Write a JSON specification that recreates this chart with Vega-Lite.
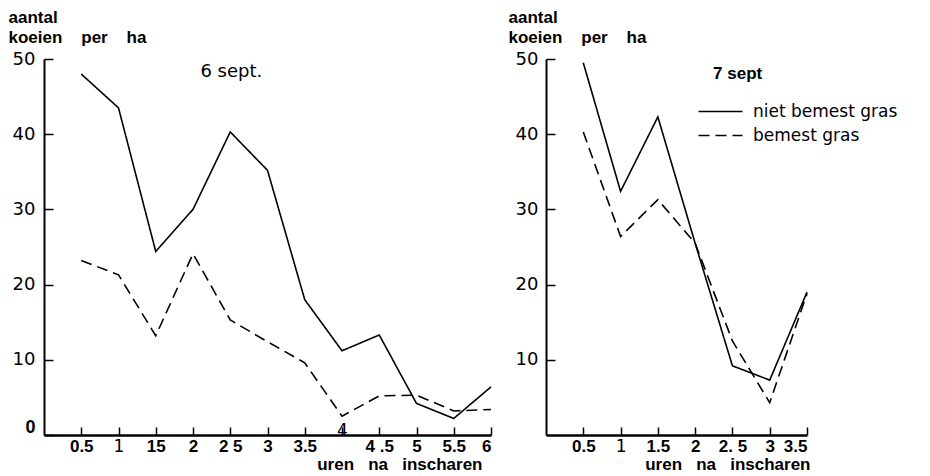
{
  "$schema": "https://vega.github.io/schema/vega-lite/v6.json",
  "padding": {"left": 8, "top": 8, "right": 0, "bottom": 0},
  "background": "white",
  "config": {
    "view": {"stroke": null},
    "axis": {"grid": false, "ticks": true, "domainColor": "black", "tickColor": "black", "labelColor": "black", "titleColor": "black"}
  },
  "datasets": {
    "sep6": [
      {"uur": 0.5, "koeien": 48, "gras": "niet bemest gras"},
      {"uur": 1, "koeien": 43.5, "gras": "niet bemest gras"},
      {"uur": 1.5, "koeien": 24.4, "gras": "niet bemest gras"},
      {"uur": 2, "koeien": 30, "gras": "niet bemest gras"},
      {"uur": 2.5, "koeien": 40.3, "gras": "niet bemest gras"},
      {"uur": 3, "koeien": 35.2, "gras": "niet bemest gras"},
      {"uur": 3.5, "koeien": 18, "gras": "niet bemest gras"},
      {"uur": 4, "koeien": 11.2, "gras": "niet bemest gras"},
      {"uur": 4.5, "koeien": 13.3, "gras": "niet bemest gras"},
      {"uur": 5, "koeien": 4.2, "gras": "niet bemest gras"},
      {"uur": 5.5, "koeien": 2.2, "gras": "niet bemest gras"},
      {"uur": 6, "koeien": 6.4, "gras": "niet bemest gras"},
      {"uur": 0.5, "koeien": 23.2, "gras": "bemest gras"},
      {"uur": 1, "koeien": 21.3, "gras": "bemest gras"},
      {"uur": 1.5, "koeien": 13.2, "gras": "bemest gras"},
      {"uur": 2, "koeien": 24.1, "gras": "bemest gras"},
      {"uur": 2.5, "koeien": 15.3, "gras": "bemest gras"},
      {"uur": 3, "koeien": 12.4, "gras": "bemest gras"},
      {"uur": 3.5, "koeien": 9.6, "gras": "bemest gras"},
      {"uur": 4, "koeien": 2.5, "gras": "bemest gras"},
      {"uur": 4.5, "koeien": 5.2, "gras": "bemest gras"},
      {"uur": 5, "koeien": 5.3, "gras": "bemest gras"},
      {"uur": 5.5, "koeien": 3.2, "gras": "bemest gras"},
      {"uur": 6, "koeien": 3.4, "gras": "bemest gras"}
    ],
    "sep7": [
      {"uur": 0.5, "koeien": 49.5, "gras": "niet bemest gras"},
      {"uur": 1, "koeien": 32.4, "gras": "niet bemest gras"},
      {"uur": 1.5, "koeien": 42.3, "gras": "niet bemest gras"},
      {"uur": 2, "koeien": 25.5, "gras": "niet bemest gras"},
      {"uur": 2.5, "koeien": 9.2, "gras": "niet bemest gras"},
      {"uur": 3, "koeien": 7.3, "gras": "niet bemest gras"},
      {"uur": 3.5, "koeien": 19, "gras": "niet bemest gras"},
      {"uur": 0.5, "koeien": 40.3, "gras": "bemest gras"},
      {"uur": 1, "koeien": 26.4, "gras": "bemest gras"},
      {"uur": 1.5, "koeien": 31.3, "gras": "bemest gras"},
      {"uur": 2, "koeien": 25.5, "gras": "bemest gras"},
      {"uur": 2.5, "koeien": 12.5, "gras": "bemest gras"},
      {"uur": 3, "koeien": 4.3, "gras": "bemest gras"},
      {"uur": 3.5, "koeien": 18.8, "gras": "bemest gras"}
    ]
  },
  "bounds": "flush",
  "spacing": 55,
  "resolve": {
    "scale": {"x": "independent", "y": "independent", "strokeDash": "independent"},
    "legend": {"strokeDash": "independent"}
  },
  "hconcat": [
    {
      "width": 447,
      "height": 376,
      "layer": [
        {
          "data": {"name": "sep6"},
          "mark": {"type": "line", "color": "black", "strokeWidth": 1.6},
          "encoding": {
            "x": {
              "field": "uur", "type": "quantitative",
              "scale": {"domain": [0, 6], "nice": false, "zero": false},
              "axis": {
                "values": [0.5, 1, 1.5, 2, 2.5, 3, 3.5, 4, 4.5, 5, 5.5, 6],
                "ticks": true, "tickSize": -8, "tickWidth": 1.5, "domainWidth": 2.5,
                "labelExpr": "datum.value == 1.5 ? '15' : datum.value == 2.5 ? '2\u00a05' : datum.value == 4.5 ? '4\u00a0.5' : format(datum.value, '~g')",
                "labelFont": {"condition": {"test": "datum.value == 1 || datum.value == 4", "value": "DejaVu Sans"}, "value": "Liberation Sans"},
                "labelFontWeight": {"condition": {"test": "datum.value == 1 || datum.value == 4", "value": "normal"}, "value": "bold"},
                "labelFontSize": 17,
                "labelPadding": {"condition": {"test": "datum.value == 4", "value": -5}, "value": 11},
                "title": "uren\u00a0\u00a0\u00a0na\u00a0\u00a0\u00a0inscharen",
                "titleFont": "Liberation Sans", "titleFontWeight": "bold", "titleFontSize": 17,
                "titleAlign": "right", "titleX": 438, "titleY": 34, "titleBaseline": "alphabetic"
              }
            },
            "y": {
              "field": "koeien", "type": "quantitative",
              "scale": {"domain": [0, 50], "nice": false},
              "axis": {
                "values": [0, 10, 20, 30, 40, 50],
                "ticks": true, "tickSize": -9, "tickWidth": 1.5, "domainWidth": 2,
                "labelFont": {"condition": {"test": "datum.value == 0", "value": "Liberation Sans"}, "value": "DejaVu Sans"},
                "labelFontWeight": {"condition": {"test": "datum.value == 0", "value": "bold"}, "value": "normal"},
                "labelOffset": {"condition": {"test": "datum.value == 0", "value": -8}, "value": 0},
                "labelFontSize": 18, "labelPadding": 18,
                "title": ["aantal", "koeien\u00a0\u00a0\u00a0\u00a0per\u00a0\u00a0\u00a0\u00a0ha"],
                "titleFont": "Liberation Sans", "titleFontWeight": "bold", "titleFontSize": 17,
                "titleAngle": 0, "titleAlign": "left", "titleBaseline": "alphabetic",
                "titleLineHeight": 20, "titleX": -36, "titleY": -37
              }
            },
            "strokeDash": {
              "field": "gras", "type": "nominal",
              "scale": {"domain": ["niet bemest gras", "bemest gras"], "range": [[1, 0], [11, 6]]},
              "legend": null
            }
          }
        },
        {
          "data": {"values": [{"label": "6 sept."}]},
          "mark": {"type": "text", "align": "left", "baseline": "alphabetic", "font": "DejaVu Sans", "fontSize": 18, "color": "black"},
          "encoding": {
            "x": {"datum": 2.1, "type": "quantitative"},
            "y": {"datum": 47.6, "type": "quantitative"},
            "text": {"field": "label"}
          }
        }
      ]
    },
    {
      "width": 261,
      "height": 376,
      "layer": [
        {
          "data": {"name": "sep7"},
          "mark": {"type": "line", "color": "black", "strokeWidth": 1.6},
          "encoding": {
            "x": {
              "field": "uur", "type": "quantitative",
              "scale": {"domain": [0, 3.5], "nice": false, "zero": false},
              "axis": {
                "values": [0.5, 1, 1.5, 2, 2.5, 3, 3.5],
                "ticks": true, "tickSize": -8, "tickWidth": 1.5, "domainWidth": 2.5,
                "labelExpr": "datum.value == 2.5 ? '2.\u00a05' : format(datum.value, '~g')",
                "labelFont": {"condition": {"test": "datum.value == 1", "value": "DejaVu Sans"}, "value": "Liberation Sans"},
                "labelFontWeight": {"condition": {"test": "datum.value == 1", "value": "normal"}, "value": "bold"},
                "labelFontSize": 17, "labelPadding": 11,
                "title": "uren\u00a0\u00a0\u00a0na\u00a0\u00a0\u00a0inscharen",
                "titleFont": "Liberation Sans", "titleFontWeight": "bold", "titleFontSize": 17,
                "titleAlign": "right", "titleX": 264, "titleY": 34, "titleBaseline": "alphabetic"
              }
            },
            "y": {
              "field": "koeien", "type": "quantitative",
              "scale": {"domain": [0, 50], "nice": false},
              "axis": {
                "values": [10, 20, 30, 40, 50],
                "ticks": true, "tickSize": -9, "tickWidth": 1.5, "domainWidth": 2,
                "labelFont": "DejaVu Sans", "labelFontSize": 18, "labelPadding": 17,
                "title": ["aantal", "koeien\u00a0\u00a0\u00a0\u00a0per\u00a0\u00a0\u00a0\u00a0ha"],
                "titleFont": "Liberation Sans", "titleFontWeight": "bold", "titleFontSize": 17,
                "titleAngle": 0, "titleAlign": "left", "titleBaseline": "alphabetic",
                "titleLineHeight": 20, "titleX": -38, "titleY": -37
              }
            },
            "strokeDash": {
              "field": "gras", "type": "nominal",
              "scale": {"domain": ["niet bemest gras", "bemest gras"], "range": [[1, 0], [11, 6]]},
              "legend": {
                "orient": "none", "legendX": 166, "legendY": 44, "title": null,
                "symbolType": "M-4,0H4", "symbolSize": 121, "symbolStrokeWidth": 1.5,
                "symbolStrokeColor": "black",
                "labelFont": "DejaVu Sans", "labelFontSize": 17, "labelColor": "black",
                "labelOffset": 24, "rowPadding": 6, "padding": 0
              }
            }
          }
        },
        {
          "data": {"values": [{"label": "7 sept"}]},
          "mark": {"type": "text", "align": "left", "baseline": "alphabetic", "font": "Liberation Sans", "fontWeight": "bold", "fontSize": 17, "color": "black"},
          "encoding": {
            "x": {"datum": 2.24, "type": "quantitative"},
            "y": {"datum": 47.3, "type": "quantitative"},
            "text": {"field": "label"}
          }
        }
      ]
    }
  ]
}
